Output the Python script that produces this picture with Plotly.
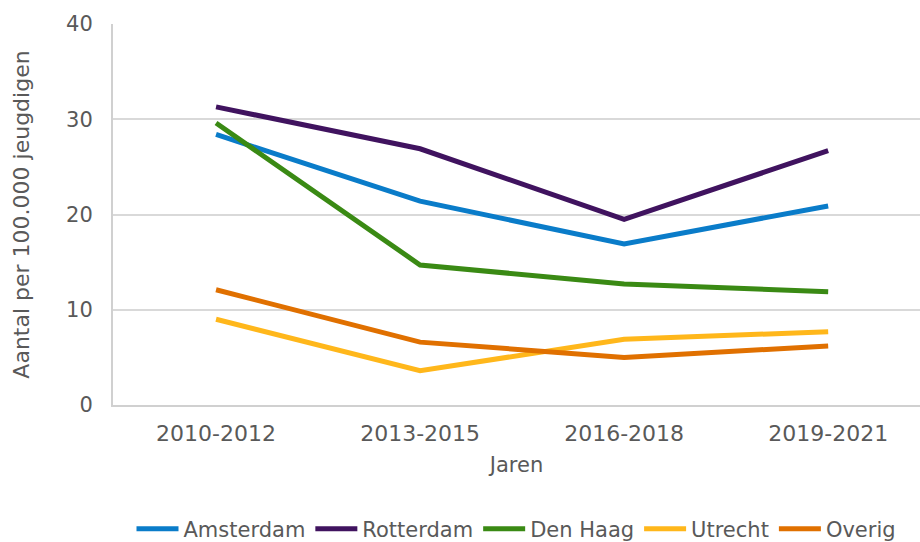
import plotly.graph_objects as go

jaren = ["2010-2012", "2013-2015", "2016-2018", "2019-2021"]

amsterdam = [28.4, 21.4, 16.9, 20.9]
rotterdam = [31.3, 26.9, 19.5, 26.7]
den_haag = [29.6, 14.7, 12.7, 11.9]
utrecht = [9.0, 3.6, 6.9, 7.7]
overig = [12.1, 6.6, 5.0, 6.2]

series = [
    ("Amsterdam", amsterdam, "#0a7cc9"),
    ("Rotterdam", rotterdam, "#40135f"),
    ("Den Haag", den_haag, "#3a8a14"),
    ("Utrecht", utrecht, "#ffb71b"),
    ("Overig", overig, "#e07000"),
]

fig = go.Figure()

for name, values, color in series:
    fig.add_trace(go.Scatter(
        x=jaren,
        y=values,
        name=name,
        mode="lines",
        line=dict(color=color, width=5),
    ))

fig.update_layout(
    width=920,
    height=542,
    margin=dict(l=113, r=0, t=24, b=137, autoexpand=False),
    plot_bgcolor="white",
    paper_bgcolor="white",
    font=dict(family="DejaVu Sans", size=21, color="#595959"),
    showlegend=True,
    legend=dict(
        orientation="h",
        x=0.5,
        xanchor="center",
        y=-0.326,
        yanchor="middle",
        font=dict(size=21, color="#595959"),
        itemwidth=42,
        tracegroupgap=0,
    ),
    xaxis=dict(
        title=dict(text="Jaren", font=dict(size=21), standoff=12),
        showline=True,
        linecolor="#d0d0d0",
        linewidth=2,
        showgrid=False,
        ticks="",
        tickfont=dict(size=22),
        ticklabelstandoff=8,
        range=[-0.505, 3.45],
    ),
    yaxis=dict(
        title=dict(text="Aantal per 100.000 jeugdigen", font=dict(size=22), standoff=30),
        range=[0, 40],
        dtick=10,
        showline=True,
        linecolor="#d0d0d0",
        linewidth=2,
        gridcolor="#d9d9d9",
        gridwidth=1.5,
        zeroline=False,
        ticks="",
        tickfont=dict(size=21),
        ticklabelstandoff=14,
    ),
)

fig.write_html(
    "out.html",
    config={"displayModeBar": False},
    post_script="document.body.style.margin='0';",
)
